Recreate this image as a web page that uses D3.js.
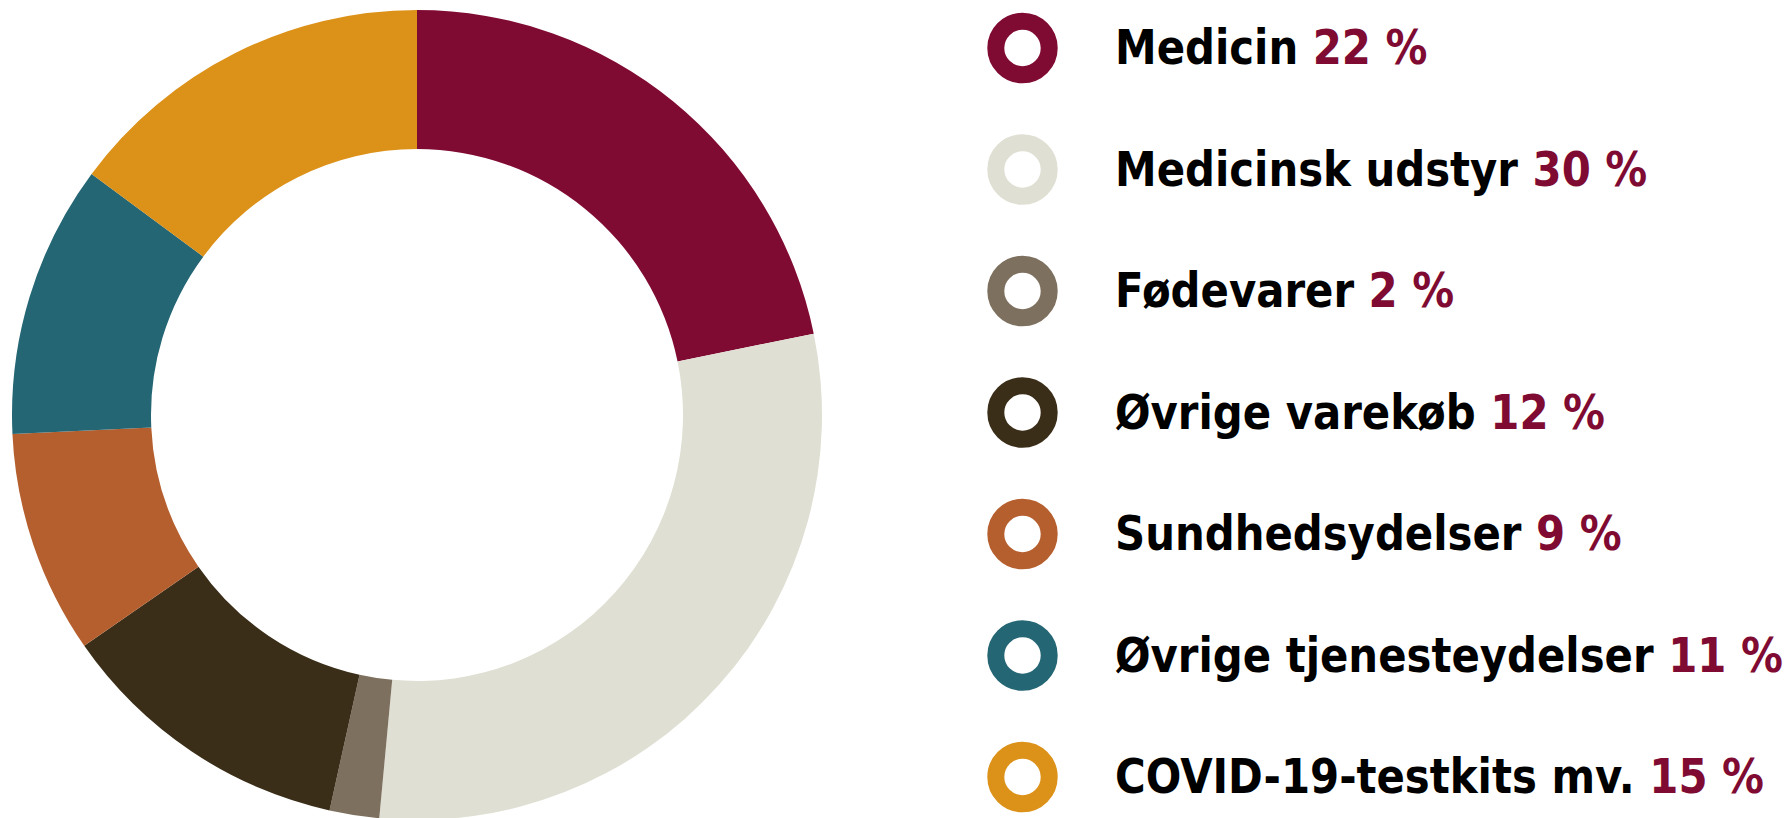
<!DOCTYPE html>
<html>
<head>
<meta charset="utf-8">
<script src="https://cdn.jsdelivr.net/npm/d3@7"></script>
<style>
  body { margin: 0; background: #fff; }
  svg { display: block; }
</style>
</head>
<body>
<div id="chart"></div>
<script>
// Chart data
const categories = ["Medicin", "Medicinsk udstyr", "Fødevarer", "Øvrige varekøb",
                    "Sundhedsydelser", "Øvrige tjenesteydelser", "COVID-19-testkits mv."];
const shares = [22, 30, 2, 12, 9, 11, 15];
const colors = ["#800b32", "#e0dfd3", "#7d705f", "#3a2e19", "#b65f2e", "#246674", "#dc9119"];

const width = 1791, height = 818;

const svg = d3.select("#chart")
  .append("svg")
  .attr("width", width)
  .attr("height", height);

// Donut
const cx = 417, cy = 415, outerR = 405, innerR = 266;

const pie = d3.pie().sort(null).value(d => d.value);
const arc = d3.arc().innerRadius(innerR).outerRadius(outerR);

const rows = categories.map((c, i) => ({ name: c, value: shares[i], color: colors[i] }));

svg.append("g")
  .attr("transform", `translate(${cx},${cy})`)
  .selectAll("path")
  .data(pie(rows))
  .enter()
  .append("path")
  .attr("d", arc)
  .attr("fill", d => d.data.color);

// Legend
const legendY = d3.scalePoint()
  .domain(categories)
  .range([48, 777]);

const item = svg.append("g").selectAll(".item")
  .data(rows)
  .enter()
  .append("g")
  .attr("class", "item")
  .attr("transform", d => `translate(0,${legendY(d.name)})`);

item.append("circle")
  .attr("cx", 1022.5)
  .attr("r", 26.7)
  .attr("fill", "none")
  .attr("stroke", d => d.color)
  .attr("stroke-width", 17);

const label = item.append("text")
  .attr("transform", "translate(1115,16)")
  .style("font-family", "'DejaVu Sans', sans-serif")
  .style("font-weight", "bold")
  .style("font-size", "48px")
  .attr("fill", "#000");

label.append("tspan").text(d => d.name + " ");
label.append("tspan")
  .attr("fill", "#800b32")
  .text(d => d.value + " %");

// squeeze the labels horizontally so the longest one matches the condensed face
const longest = d3.max(label.nodes(), n => n.getComputedTextLength());
const sx = 668 / longest;
label.attr("transform", `translate(1115,16) scale(${sx},1)`);
</script>
</body>
</html>
